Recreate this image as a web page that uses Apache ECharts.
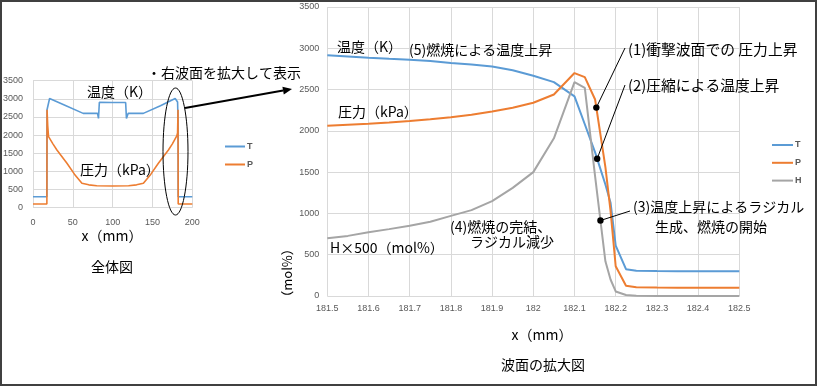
<!DOCTYPE html>
<html><head><meta charset="utf-8">
<script src="https://cdn.jsdelivr.net/npm/echarts@6/dist/echarts.min.js"></script>
<style>html,body{margin:0;padding:0;background:#fff}#c{width:819px;height:387px}</style>
</head><body><div id="c"></div>
<script>
// ---- whole view (全体図) ----
const wholeXT = [0, 17.4, 17.6, 20.8, 40, 63, 81, 82.2, 83.3, 100, 116.3, 117.3, 119.5, 138.5, 160, 178.5, 181.5, 182.1, 182.3, 200];
const wholeT  = [300, 300, 2700, 3010, 2825, 2600, 2600, 2460, 2905, 2900, 2900, 2460, 2600, 2600, 2810, 3010, 2915, 2418, 300, 300];
const wholeXP = [0, 17.4, 17.6, 18.5, 19.5, 25, 30, 42.6, 52, 61.4, 70, 80, 100, 120, 130, 138.6, 148, 157.4, 170, 175, 180.5, 181.5, 182.1, 182.3, 200];
const wholeP  = [100, 100, 2700, 2250, 1957, 1760, 1590, 1224, 925, 672, 630, 606, 598, 606, 630, 672, 925, 1224, 1590, 1760, 1980, 2063, 2700, 100, 100];
// ---- zoomed view (波面の拡大図) ----
const zoomX = [181.5, 181.55, 181.6, 181.65, 181.7, 181.75, 181.8, 181.85, 181.9, 181.95, 182.0, 182.05, 182.1, 182.125, 182.15, 182.175, 182.1875, 182.2, 182.225, 182.25, 182.3, 182.35, 182.4, 182.45, 182.5];
const zoomT = [2915, 2900, 2885, 2873, 2862, 2845, 2822, 2805, 2780, 2735, 2668, 2590, 2418, 2080, 1740, 1350, 1130, 610, 325, 305, 302, 300, 300, 300, 300];
const zoomP = [2063, 2075, 2087, 2100, 2118, 2140, 2165, 2195, 2235, 2280, 2340, 2440, 2700, 2650, 2380, 1560, 1030, 360, 125, 105, 102, 100, 100, 100, 100];
const zoomH = [700, 728, 772, 810, 850, 900, 970, 1040, 1150, 1310, 1500, 1910, 2590, 2520, 1450, 420, 200, 55, 12, 3, 0, 0, 0, 0, 0];
// axis settings
const wholeXRange = [0, 200, 50];
const zoomXRange = [181.5, 182.5, 0.1];
const yRange = [0, 3500, 500];
// annotation anchors (x on the curve)
const note1X = 182.153, note2X = 182.155, note3X = 182.163;

const cT = '#5B9BD5', cP = '#ED7D31', cH = '#A5A5A5';
const JP = '"Noto Sans CJK JP", sans-serif';
const lblStyle = {fontSize: 9, color: '#595959', fontFamily: '"Liberation Sans", Arial, sans-serif'};
const split = {show: true, lineStyle: {color: '#D9D9D9', width: 1}};
const plainNum = v => String(Math.round(v));

const pairs = (xs, ys) => xs.map((x, i) => [x, ys[i]]);
function interp(xs, ys, x) {
  for (let i = 0; i < xs.length - 1; i++) {
    if (x >= xs[i] && x <= xs[i + 1]) {
      const t = (x - xs[i]) / (xs[i + 1] - xs[i]);
      return ys[i] + t * (ys[i + 1] - ys[i]);
    }
  }
  return ys[ys.length - 1];
}

const chart = echarts.init(document.getElementById('c'), null, {renderer: 'canvas'});
const lineS = (name, xi, data, color, w) => ({
  name, type: 'line', xAxisIndex: xi, yAxisIndex: xi, data, symbol: 'none', showSymbol: false,
  lineStyle: {color, width: w}, itemStyle: {color}, animation: false, z: 3
});

chart.setOption({
  animation: false,
  grid: [
    {left: 33, top: 80.7, width: 159.3, height: 127},
    {left: 327.3, top: 7, width: 412, height: 289}
  ],
  xAxis: [
    {gridIndex: 0, type: 'value', min: wholeXRange[0], max: wholeXRange[1], interval: wholeXRange[2],
     axisLine: {show: false}, axisTick: {show: false}, splitLine: split,
     axisLabel: Object.assign({margin: 10, formatter: plainNum}, lblStyle)},
    {gridIndex: 1, type: 'value', min: zoomXRange[0], max: zoomXRange[1], interval: zoomXRange[2],
     axisLine: {show: false}, axisTick: {show: false}, splitLine: split,
     axisLabel: Object.assign({margin: 8, formatter: v => String(parseFloat(v.toFixed(1)))}, lblStyle)}
  ],
  yAxis: [
    {gridIndex: 0, type: 'value', min: yRange[0], max: yRange[1], interval: yRange[2],
     axisLine: {show: false}, axisTick: {show: false}, splitLine: split,
     axisLabel: Object.assign({margin: 10, formatter: plainNum}, lblStyle)},
    {gridIndex: 1, type: 'value', min: yRange[0], max: yRange[1], interval: yRange[2],
     axisLine: {show: false}, axisTick: {show: false}, splitLine: split,
     axisLabel: Object.assign({margin: 8, formatter: plainNum}, lblStyle)}
  ],
  legend: [
    {data: ['T', 'P'], orient: 'vertical', left: 220, top: 136.5, icon: 'rect', itemWidth: 20, itemHeight: 2,
     itemGap: 8, selectedMode: false, textStyle: {fontSize: 9, lineHeight: 10, color: '#595959', fontWeight: 'bold', padding: [0, 0, 0, -3]}},
    {data: ['T', 'P', 'H'], orient: 'vertical', left: 767, top: 135, icon: 'rect', itemWidth: 21, itemHeight: 2,
     itemGap: 7.8, selectedMode: false, textStyle: {fontSize: 9, lineHeight: 10, color: '#595959', fontWeight: 'bold', padding: [0, 0, 0, -3]}}
  ],
  series: [
    lineS('T', 0, pairs(wholeXT, wholeT), cT, 1.6),
    lineS('P', 0, pairs(wholeXP, wholeP), cP, 1.6),
    lineS('T', 1, pairs(zoomX, zoomT), cT, 2),
    lineS('P', 1, pairs(zoomX, zoomP), cP, 2),
    lineS('H', 1, pairs(zoomX, zoomH), cH, 2)
  ]
});

const d1 = chart.convertToPixel({gridIndex: 1}, [note1X, interp(zoomX, zoomP, note1X)]);
const d2 = chart.convertToPixel({gridIndex: 1}, [note2X, interp(zoomX, zoomT, note2X)]);
const d3 = chart.convertToPixel({gridIndex: 1}, [note3X, interp(zoomX, zoomH, note3X)]);

const txt = (t, x, y, opts) => Object.assign({type: 'text', z: 20, style: Object.assign({
  text: t, x, y, font: '14px ' + JP, fill: '#000', verticalAlign: 'middle', align: 'left'}, opts || {})});
const seg = (x1, y1, x2, y2, w) => ({type: 'line', z: 20, shape: {x1, y1, x2, y2}, style: {stroke: '#000', lineWidth: w || 1}});
const dot = (p) => ({type: 'circle', z: 21, shape: {cx: p[0], cy: p[1], r: 3.2}, style: {fill: '#000'}});

chart.setOption({
  graphic: [
    {type: 'rect', z: 30, shape: {x: 1, y: 1, width: 815, height: 384}, style: {fill: 'none', stroke: '#404040', lineWidth: 2}},
    // whole-view texts
    txt('・右波面を拡大して表示', 147, 73),
    txt('温度（K）', 87, 92),
    txt('圧力（kPa）', 80, 170),
    txt('x（mm）', 112, 236, {align: 'center'}),
    txt('全体図', 112, 267, {align: 'center'}),
    // ellipse + arrow
    {type: 'ellipse', z: 20, shape: {cx: 175.5, cy: 151.5, rx: 12.5, ry: 63.5}, style: {fill: 'none', stroke: '#000', lineWidth: 1}},
    seg(185, 108, 283.1, 90.6, 2),
    {type: 'polygon', z: 20, shape: {points: [[292, 89], [283.8, 94.5], [282.4, 86.7]]}, style: {fill: '#000'}},
    // zoom-view texts
    txt('温度（K）', 337, 47),
    txt('(5)燃焼による温度上昇', 409, 50),
    txt('圧力（kPa）', 338, 112),
    txt('H×500（mol%）', 330, 248),
    txt('(4)燃焼の完結、', 450, 227),
    txt('ラジカル減少', 470, 242),
    txt('(1)衝撃波面での 圧力上昇', 628, 49, {font: '14.8px ' + JP}),
    txt('(2)圧縮による温度上昇', 628, 85, {font: '14.8px ' + JP}),
    txt('(3)温度上昇によるラジカル', 633, 207),
    txt('生成、燃焼の開始', 655, 227),
    txt('x（mm）', 542, 335, {align: 'center'}),
    txt('波面の拡大図', 543, 365, {align: 'center'}),
    {type: 'text', z: 20, x: 287, y: 273, rotation: Math.PI / 2,
     style: {text: '（mol%）', x: 0, y: 0, font: '13px ' + JP, fill: '#000', align: 'center', verticalAlign: 'middle'}},
    // leader lines and dots
    seg(625, 48, d1[0], d1[1]), dot(d1),
    seg(625, 85, d2[0], d2[1]), dot(d2),
    seg(630, 211, d3[0], d3[1]), dot(d3)
  ]
});
</script></body></html>
